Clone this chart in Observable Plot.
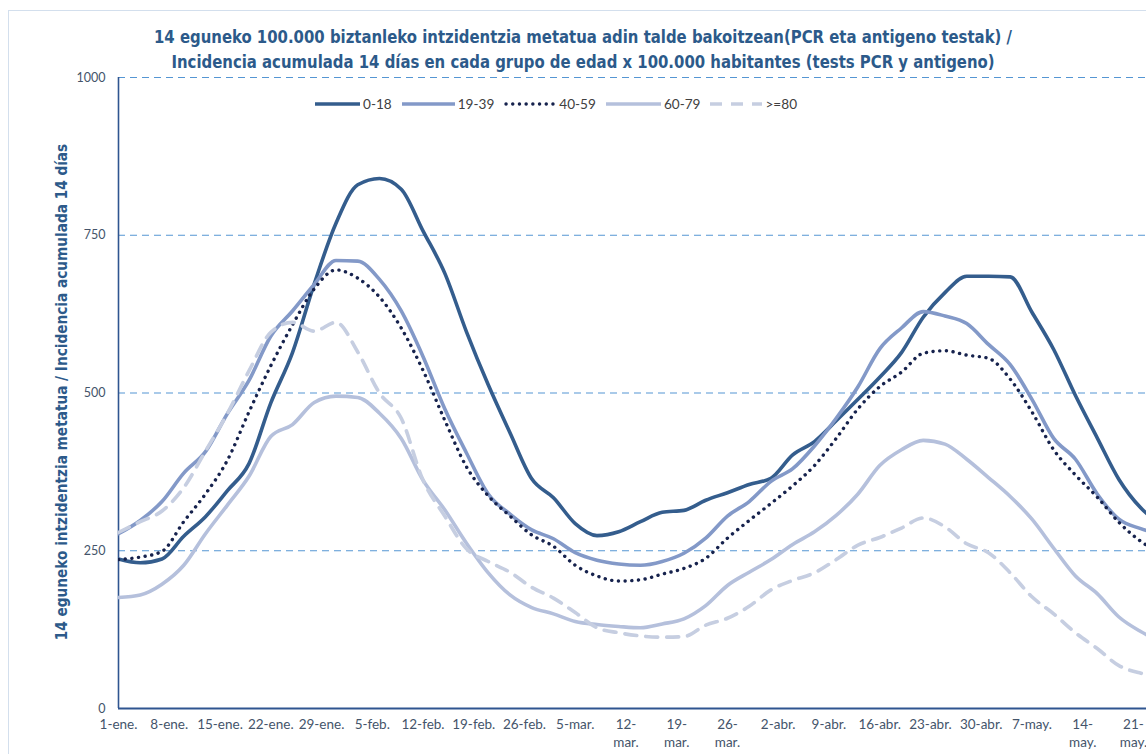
<!DOCTYPE html>
<html>
<head>
<meta charset="utf-8">
<script src="https://cdn.jsdelivr.net/npm/d3@7"></script>
<script src="https://cdn.jsdelivr.net/npm/@observablehq/plot@0.6"></script>
<style>
  body { margin: 0; background: #fff; }
  #wrap { position: relative; width: 1146px; height: 754px; overflow: hidden; background: #fff;
          font-family: "DejaVu Sans Condensed", "Lato", sans-serif; }
  #border { position: absolute; left: 8px; top: 10px; width: 1400px; height: 900px; border: 1.5px solid #d3dfed; }
  #title { position: absolute; left: 0; top: 24px; width: 1166px; text-align: center; font-weight: bold;
           font-size: 18.5px; line-height: 25px; color: #2c5a8a; transform: scaleX(0.895); transform-origin: 583px 0; }
  #chart { position: absolute; left: 0; top: 70px; }
  #ylabel { position: absolute; left: 62px; top: 392px; transform: translate(-50%, -50%) rotate(-90deg);
            white-space: nowrap; font-weight: bold; font-size: 15.2px; color: #2c5a8a; }
  #legend { position: absolute; left: 315px; top: 96px; display: flex; align-items: center; gap: 10px;
            font-family: "Lato", sans-serif; font-size: 13.6px; color: #404040; }
  #legend .item { display: flex; align-items: center; gap: 3px; }
</style>
</head>
<body>
<div id="wrap">
  <div id="border"></div>
  <div id="title">14 eguneko 100.000 biztanleko intzidentzia metatua adin talde bakoitzean(PCR eta antigeno testak) /<br>Incidencia acumulada 14 días en cada grupo de edad x 100.000 habitantes (tests PCR y antigeno)</div>
  <div id="chart"></div>
  <div id="ylabel">14 eguneko intzidentzia metatua / Incidencia acumulada 14 días</div>
  <div id="legend"></div>
</div>
<script>
// ---- data (values every 3 days starting 1 Jan 2021) ----
const startDate = new Date(Date.UTC(2021, 0, 1));
const stepDays = 3;
const seriesNames = ["0-18", "19-39", "40-59", "60-79", ">=80"];
const v0_18 = [237,231,237,273,304,345,388,484,564,673,769,830,840,823,757,690,597,513,437,364,334,293,274,280,296,311,314,330,342,355,365,402,423,456,490,525,564,620,659,685,685,684,628,569,496,429,363,318,290];
const v19_39 = [277,298,328,373,407,467,520,590,630,672,710,709,680,630,558,475,405,340,308,283,269,247,235,229,227,233,246,270,305,328,360,380,416,460,510,570,603,629,622,610,577,545,490,428,395,340,300,285,275];
const v40_59 = [236,240,249,296,340,393,470,543,608,665,695,682,652,603,536,457,383,337,305,275,257,227,210,202,204,213,222,238,270,298,325,353,385,428,475,510,533,563,567,560,555,522,470,410,370,335,295,265,245];
const v60_79 = [176,180,197,227,277,322,368,431,450,485,495,493,468,428,362,315,262,215,180,160,150,138,133,130,128,134,142,163,195,216,236,260,280,306,340,385,410,425,419,395,366,336,300,254,210,182,145,122,105];
const v80 = [279,296,313,350,408,467,535,596,612,598,612,565,500,460,362,305,253,233,216,192,175,152,128,120,115,113,114,132,143,162,188,203,215,236,259,271,286,302,288,261,247,215,177,150,120,95,68,56,50];

const tickLabels = ["1-ene.","8-ene.","15-ene.","22-ene.","29-ene.","5-feb.","12-feb.","19-feb.","26-feb.","5-mar.",
  "12-\nmar.","19-\nmar.","26-\nmar.","2-abr.","9-abr.","16-abr.","23-abr.","30-abr.","7-may.","14-\nmay.","21-\nmay."];
const yTicks = [0, 250, 500, 750, 1000];

const styles = {
  "0-18":  {stroke: "#345d8d", strokeWidth: 3.6},
  "19-39": {stroke: "#8399c8", strokeWidth: 3.6},
  "40-59": {stroke: "#16224d", strokeWidth: 3.4, strokeDasharray: "0.1,6.6", strokeLinecap: "round"},
  "60-79": {stroke: "#b5c0dc", strokeWidth: 3.6},
  ">=80":  {stroke: "#c6cee1", strokeWidth: 3.6, strokeDasharray: "12,9"}
};
const legendWidths = {"0-18": 45, "19-39": 53, "40-59": 52, "60-79": 55, ">=80": 52};

// ---- build table ----
const dayMs = 86400000;
const valuesBySeries = {"0-18": v0_18, "19-39": v19_39, "40-59": v40_59, "60-79": v60_79, ">=80": v80};
const rows = [];
for (const s of seriesNames) {
  valuesBySeries[s].forEach((v, i) => rows.push({series: s, date: new Date(+startDate + i * stepDays * dayMs), value: v}));
}
const tickDates = tickLabels.map((_, i) => new Date(+startDate + i * 7 * dayMs));
const labelMap = new Map(tickDates.map((d, i) => [+d, tickLabels[i]]));
const endDate = new Date(+startDate + 141.8 * dayMs);
const axisColor = "#2f5590";

const chart = Plot.plot({
  width: 1146,
  height: 684,
  marginLeft: 118,
  marginRight: 0,
  marginTop: 7,
  marginBottom: 46,
  style: {fontFamily: "Lato, sans-serif", fontSize: "13.5px", color: "#44546a", background: "transparent"},
  x: {type: "utc", domain: [startDate, endDate]},
  y: {domain: [0, 1000]},
  marks: [
    Plot.ruleY(yTicks.filter(v => v > 0), {stroke: "#5596d3", strokeWidth: 1.2, strokeDasharray: "7,5"}),
    Plot.axisY(yTicks, {tickSize: 0, tickPadding: 13, fontSize: 12.5, label: null, tickFormat: d => String(d)}),
    Plot.axisX(tickDates, {tickSize: 0, tickPadding: 8, label: null, lineHeight: 1.3, tickFormat: d => labelMap.get(+d)}),
    Plot.ruleX([startDate], {y1: 0, y2: 1000, stroke: axisColor, strokeWidth: 1.6}),
    Plot.ruleY([0], {stroke: axisColor, strokeWidth: 2}),
    ...seriesNames.map(s => Plot.line(rows.filter(r => r.series === s), {
      x: "date", y: "value", clip: true, curve: "monotone-x", strokeLinejoin: "round", ...styles[s]
    }))
  ]
});
document.getElementById("chart").appendChild(chart);

// ---- legend ----
const legend = document.getElementById("legend");
for (const s of seriesNames) {
  const st = styles[s];
  const item = document.createElement("div");
  item.className = "item";
  const w = legendWidths[s];
  item.innerHTML = `<svg width="${w}" height="8"><line x1="${st.strokeLinecap ? 2 : 0}" y1="4" x2="${w}" y2="4" stroke="${st.stroke}" stroke-width="${st.strokeWidth}" ${st.strokeDasharray ? `stroke-dasharray="${st.strokeDasharray}"` : ""} ${st.strokeLinecap ? `stroke-linecap="${st.strokeLinecap}"` : ""}/></svg><span>${s.replace(">", "&gt;")}</span>`;
  legend.appendChild(item);
}
</script>
</body>
</html>
